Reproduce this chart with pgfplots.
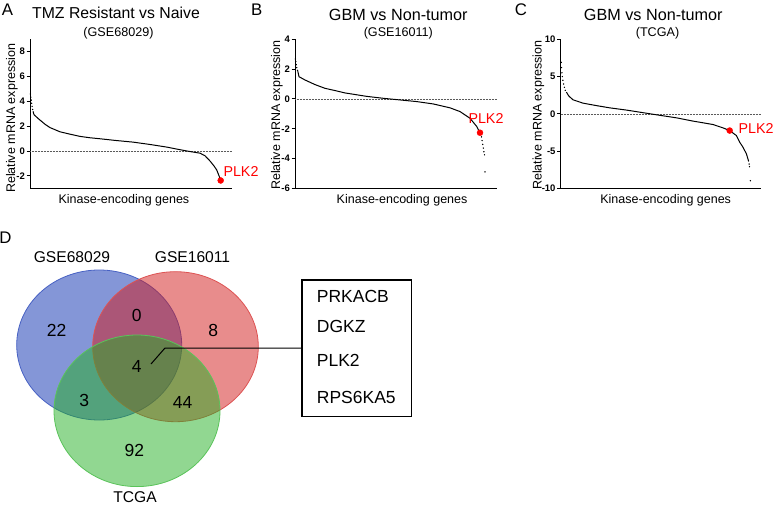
\documentclass[border=0pt]{standalone}
\usepackage{pgfplots}
\pgfplotsset{compat=1.18}
\usepackage{fontspec}
\setmainfont{Liberation Sans}
\definecolor{plkred}{RGB}{255,0,0}
\definecolor{vblue}{RGB}{10,45,175}
\definecolor{vred}{RGB}{210,25,25}
\definecolor{vgreen}{RGB}{35,175,35}
\definecolor{zline}{RGB}{90,90,90}
\newcommand{\fs}[1]{\fontsize{#1}{#1}\selectfont}

\pgfplotsset{
  rankplot/.style={scale only axis, width=202pt, height=149pt, axis lines=left,
    axis line style={-,line width=0.9pt}, xtick=\empty, xmin=0, xmax=202, clip=false,
    tick align=outside, major tick length=3.5pt, every tick/.style={black,line width=0.9pt},
    /pgf/number format/assume math mode=true,
    yticklabel style={font=\fs{9.5}\bfseries, inner sep=1.5pt},
    label style={font=\fs{12.5}},
    ylabel={Relative mRNA expression}, xlabel={Kinase-encoding genes}},
  curve/.style={black, line width=1pt, no marks},
  tail/.style={black, only marks, mark=*, mark size=0.45pt},
  zero/.style={zline, densely dotted, line width=0.5pt, no marks},
  plk/.style={plkred, only marks, mark=*, mark size=3pt},
}
\tikzset{plklab/.style={plkred, anchor=west, inner sep=0pt, font=\fs{14.3}}}

\begin{document}
\begin{tikzpicture}
\useasboundingbox (0,0) rectangle (778pt,-505pt);

% A: TMZ resistant vs naive
\begin{axis}[rankplot, at={(30pt,-188.3pt)}, anchor=south west,
  ymin=-3, ymax=9, ytick={-2,0,2,4,6,8},
  ylabel style={at={(axis description cs:-0.09,0.47)}, anchor=center},
  xlabel style={at={(axis description cs:0.465,0)}, anchor=center, yshift=-12pt}]
\addplot[zero] coordinates {(0,0) (202,0)};
\addplot[tail] coordinates {(0.4,4.6) (0.8,4.35) (1.2,4.1) (1.6,3.85) (2.1,3.6) (2.6,3.35)};
\addplot[curve] coordinates {(3,3.2) (4,2.93) (8.3,2.61) (15,2.16) (20,1.89) (30,1.55)
  (40,1.36) (50,1.18) (60,1.07) (70,0.99) (86,0.85) (103,0.72) (120,0.53) (136.7,0.32)
  (146.7,0.16) (153.3,0.06) (160,-0.04) (170,-0.17) (175,-0.38) (180,-0.8) (184,-1.2)
  (186.7,-1.52) (189.3,-2.05) (190.7,-2.37)};
\addplot[plk] coordinates {(190.7,-2.37)};
\node[plklab] at (axis cs:193.3,-1.66) {PLK2};
\end{axis}

% B: GBM vs non-tumor, GSE16011
\begin{axis}[rankplot, at={(295pt,-188.3pt)}, anchor=south west,
  ymin=-6, ymax=4, ytick={-6,-4,-2,0,2,4},
  ylabel style={at={(axis description cs:-0.09,0.49)}, anchor=center},
  xlabel style={at={(axis description cs:0.53,0)}, anchor=center, yshift=-12pt}]
\addplot[zero] coordinates {(0,0) (202,0)};
\addplot[tail] coordinates {(0.4,2.68) (0.8,2.5) (1.2,2.3) (1.7,2.1)};
\addplot[curve] coordinates {(2.2,1.95) (2.7,1.89) (4,1.49) (10,1.27) (20,0.96) (30,0.71)
  (40,0.56) (50,0.4) (71.7,0.17) (88.3,0.04) (105,-0.07) (121.7,-0.18) (138.3,-0.34)
  (155,-0.6) (165,-0.85) (175,-1.3) (181.7,-1.85) (185,-2.27)};
\addplot[tail] coordinates {(186.5,-2.55) (187.1,-2.8) (187.7,-3.05) (188.3,-3.3)
  (188.9,-3.55) (189.5,-3.75) (190,-4.9)};
\addplot[plk] coordinates {(185,-2.27)};
\node[plklab] at (axis cs:173.3,-1.34) {PLK2};
\end{axis}

% C: GBM vs non-tumor, TCGA
\begin{axis}[rankplot, at={(560.7pt,-188.3pt)}, anchor=south west,
  width=200pt, xmax=200, ymin=-10, ymax=10, ytick={-10,-5,0,5,10},
  ylabel style={at={(axis description cs:-0.112,0.49)}, anchor=center},
  xlabel style={at={(axis description cs:0.525,0)}, anchor=center, yshift=-12pt}]
\addplot[zero] coordinates {(0,0) (200,0)};
\addplot[tail] coordinates {(0.6,6.9) (0.9,6.2) (1.2,5.5) (1.6,5.0) (2.2,4.5) (2.9,4.0)
  (3.7,3.55) (4.6,3.15)};
\addplot[curve] coordinates {(5.7,2.91) (8,2.4) (12.3,1.88) (22.3,1.43) (35.7,1.1)
  (49,0.8) (65.7,0.5) (82.3,0.15) (99,-0.2) (115.7,-0.54) (132.3,-0.98) (139,-1.13)
  (152.3,-1.44) (162.3,-1.89) (169,-2.25) (175.7,-2.92) (179,-3.82) (182.3,-4.49)
  (185.7,-5.38) (188,-6.4)};
\addplot[tail] coordinates {(188.4,-6.75) (188.8,-7.1) (189.7,-8.98)};
\addplot[plk] coordinates {(169,-2.25)};
\node[plklab] at (axis cs:177.6,-1.94) {PLK2};
\end{axis}

% overlay: titles, panel letters and Venn diagram (D)
\begin{axis}[scale only axis, at={(0pt,-505pt)}, anchor=south west,
  width=778pt, height=505pt, xmin=0, xmax=778, ymin=-505, ymax=0,
  hide axis, clip=false]
\node[font=\fs{16.8}] at (axis cs:7.5,-9.5) {A};
\node[font=\fs{16.8}] at (axis cs:256.7,-9.5) {B};
\node[font=\fs{16.8}] at (axis cs:521,-9.5) {C};
\node[font=\fs{16.8}] at (axis cs:5.5,-238) {D};
\node[font=\fs{15.8}] at (axis cs:116,-13) {TMZ Resistant vs Naive};
\node[font=\fs{12.6}] at (axis cs:118.5,-33.5) {(GSE68029)};
\node[font=\fs{16.2}] at (axis cs:398.3,-15) {GBM vs Non-tumor};
\node[font=\fs{12.6}] at (axis cs:398.3,-33.5) {(GSE16011)};
\node[font=\fs{16.2}] at (axis cs:653.3,-15) {GBM vs Non-tumor};
\node[font=\fs{12.6}] at (axis cs:657.5,-33.5) {(TCGA)};

\draw[vblue!75, line width=0.8pt, fill=vblue, fill opacity=0.5]
  (axis cs:99.2,-345) ellipse [x radius=82.5pt, y radius=75pt];
\draw[vred!75, line width=0.8pt, fill=vred, fill opacity=0.5]
  (axis cs:175.5,-346.7) ellipse [x radius=82.8pt, y radius=75pt];
\draw[vgreen!75, line width=0.8pt, fill=vgreen, fill opacity=0.5]
  (axis cs:137,-410.8) ellipse [x radius=83pt, y radius=75.8pt];

\node[font=\fs{15.6}] at (axis cs:72,-257) {GSE68029};
\node[font=\fs{15.6}] at (axis cs:192.5,-257) {GSE16011};
\node[font=\fs{15.6}, inner sep=0pt] at (axis cs:135,-497) {TCGA};
\node[font=\fs{17.5}] at (axis cs:56.7,-330) {22};
\node[font=\fs{17.5}] at (axis cs:136.7,-315) {0};
\node[font=\fs{17.5}] at (axis cs:213.3,-330) {8};
\node[font=\fs{17.5}] at (axis cs:136.7,-366.7) {4};
\node[font=\fs{17.5}] at (axis cs:84.3,-400) {3};
\node[font=\fs{17.5}] at (axis cs:182.7,-402) {44};
\node[font=\fs{17.5}] at (axis cs:134.3,-450) {92};

\draw[black, line width=1pt] (axis cs:151,-364) -- (axis cs:165,-348) -- (axis cs:302,-348);
\draw[black, line width=1.3pt] (axis cs:302,-280) rectangle (axis cs:411.7,-416.7);
\node[font=\fs{17.5}, anchor=west, inner sep=0pt] at (axis cs:316.7,-296) {PRKACB};
\node[font=\fs{17.5}, anchor=west, inner sep=0pt] at (axis cs:316.7,-326.7) {DGKZ};
\node[font=\fs{17.5}, anchor=west, inner sep=0pt] at (axis cs:316.7,-360.7) {PLK2};
\node[font=\fs{17.5}, anchor=west, inner sep=0pt] at (axis cs:316.7,-397.7) {RPS6KA5};
\end{axis}
\end{tikzpicture}
\end{document}
